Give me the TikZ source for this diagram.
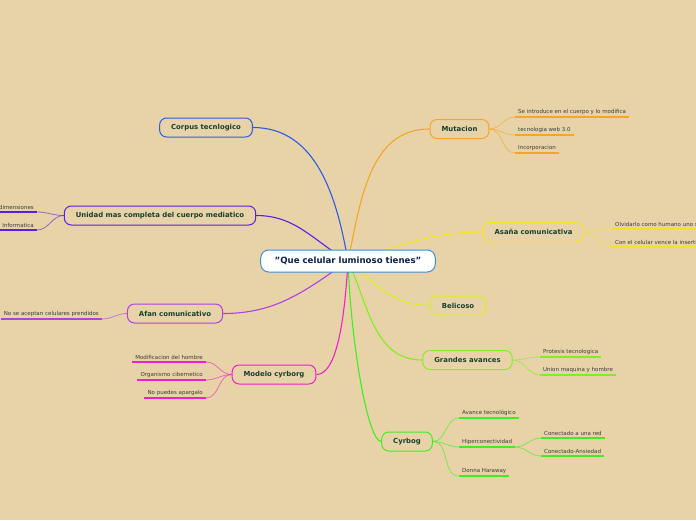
\documentclass[tikz,border=0pt]{standalone}
\usepackage{fontspec}
\setmainfont{DejaVu Sans}
\definecolor{bg}{HTML}{E8D3A8}
\definecolor{cblue}{HTML}{3A8FD0}
\definecolor{cnavy}{HTML}{0A2050}
\definecolor{ctext}{HTML}{173F2F}
\definecolor{csub}{HTML}{3A3A3A}
\definecolor{kcorpus}{HTML}{2A5CE8}
\definecolor{kunidad}{HTML}{5A1EE6}
\definecolor{kafan}{HTML}{B040E0}
\definecolor{kmodelo}{HTML}{F020C8}
\definecolor{kmut}{HTML}{F5A623}
\definecolor{kasana}{HTML}{F5E41A}
\definecolor{kbeli}{HTML}{D8F020}
\definecolor{kgrand}{HTML}{7EF020}
\definecolor{kcyr}{HTML}{3CF020}
\tikzset{
  mainnode/.style={draw=#1, line width=1pt, rounded corners=7pt, fill=bg, text=ctext,
    font=\fontsize{6.9}{7.5}\selectfont\bfseries, inner xsep=11.5pt, minimum height=19pt, inner ysep=0pt},
  centernode/.style={draw=cblue, line width=1pt, rounded corners=8pt, fill=white, text=cnavy,
    font=\fontsize{8.6}{9}\selectfont\bfseries, inner xsep=14pt, minimum height=22pt, inner ysep=0pt},
  subnode/.style={text=csub, font=\fontsize{5.5}{6.5}\selectfont, inner xsep=3pt, inner ysep=2.2pt},
  uline/.style={line width=1.4pt, draw=#1},
  link/.style={line width=1.1pt, draw=#1},
  sublink/.style={line width=0.8pt, draw=#1, draw opacity=0.6},
}
\begin{document}
\begin{tikzpicture}[x=1pt,y=-1pt]
\useasboundingbox (0,0) rectangle (696,520);
\fill[bg] (0,0) rectangle (696,520);
\clip (0,0) rectangle (696,520);
\coordinate (hub) at (348,261);
% main nodes
\node[mainnode=kcorpus] (corpus) at (206,127.5) {Corpus tecnlogico};
\node[mainnode=kunidad] (unidad) at (160,215.5) {Unidad mas completa del cuerpo mediatico};
\node[mainnode=kafan] (afan) at (175,313.5) {Afan comunicativo};
\node[mainnode=kmodelo] (modelo) at (274,374.5) {Modelo cyrborg};
\node[mainnode=kmut] (mut) at (459.5,129) {Mutacion};
\node[mainnode=kasana] (asana) at (533.5,232) {Asaña comunicativa};
\node[mainnode=kbeli] (beli) at (458,305.5) {Belicoso};
\node[mainnode=kgrand] (grand) at (467.5,360) {Grandes avances};
\node[mainnode=kcyr] (cyr) at (407,441.5) {Cyrbog};
% main links
\draw[link=kcorpus] (hub) to[out=100,in=0] (corpus.east);
\draw[link=kunidad] (hub) to[out=150,in=0] (unidad.east);
\draw[link=kafan] (hub) to[out=215,in=0] (afan.east);
\draw[link=kmodelo] (hub) .. controls (344,330) and (335,374.5) .. (modelo.east);
\draw[link=kmut] (hub) to[out=78,in=180] (mut.west);
\draw[link=kasana] (hub) to[out=15,in=180] (asana.west);
\draw[link=kbeli] (hub) to[out=-40,in=180] (beli.west);
\draw[link=kgrand] (hub) to[out=-65,in=180] (grand.west);
\draw[link=kcyr] (hub) .. controls (351,345) and (368,441.5) .. (cyr.west);
% center
\node[centernode] (center) at (348,261) {\symbol{34}Que celular luminoso tienes\symbol{34}};
% Mutacion subs
\node[subnode, anchor=south west] (m1) at (515,117) {Se introduce en el cuerpo y lo modifica};
\node[subnode, anchor=south west] (m2) at (515,135) {tecnologia web 3.0};
\node[subnode, anchor=south west] (m3) at (515,153) {Incorporacion};
\foreach \n in {m1,m2,m3}{
  \draw[uline=kmut] (\n.south west) -- (\n.south east);
  \draw[sublink=kmut] (mut.east) to[out=0,in=180] (\n.south west);
}
% Asana subs
\node[subnode, anchor=south west] (a1) at (612,229) {Olvidarlo como humano uno se};
\node[subnode, anchor=south west] (a2) at (612,247) {Con el celular vence la insertid};
\foreach \n in {a1,a2}{
  \draw[uline=kasana] (\n.south west) -- (\n.south east);
  \draw[sublink=kasana] (asana.east) to[out=0,in=180] (\n.south west);
}
% Grandes subs
\node[subnode, anchor=south west] (g1) at (540,357) {Protesis tecnologica};
\node[subnode, anchor=south west] (g2) at (540,375) {Union maquina y hombre};
\foreach \n in {g1,g2}{
  \draw[uline=kgrand] (\n.south west) -- (\n.south east);
  \draw[sublink=kgrand] (grand.east) to[out=0,in=180] (\n.south west);
}
% Cyrbog subs
\node[subnode, anchor=south west] (c1) at (459,418) {Avance tecnológico};
\node[subnode, anchor=south west] (c2) at (459,447) {Hiperconectividad};
\node[subnode, anchor=south west] (c3) at (459,476) {Donna Haraway};
\foreach \n in {c1,c2,c3}{
  \draw[uline=kcyr] (\n.south west) -- (\n.south east);
  \draw[sublink=kcyr] (cyr.east) to[out=0,in=180] (\n.south west);
}
\node[subnode, anchor=south west] (h1) at (541,438) {Conectado a una red};
\node[subnode, anchor=south west] (h2) at (541,456) {Conectado-Ansiedad};
\foreach \n in {h1,h2}{
  \draw[uline=kcyr] (\n.south west) -- (\n.south east);
  \draw[sublink=kcyr] (c2.south east) to[out=0,in=180] (\n.south west);
}
% Unidad subs
\node[subnode, anchor=south east] (u1) at (37,212) {dimensiones};
\node[subnode, anchor=south east] (u2) at (37,230) {Informatica};
\foreach \n in {u1,u2}{
  \draw[uline=kunidad] (\n.south west) -- (\n.south east);
  \draw[sublink=kunidad] (unidad.west) to[out=180,in=0] (\n.south east);
}
% Afan sub
\node[subnode, anchor=south east] (f1) at (102,319) {No se aceptan celulares prendidos};
\draw[uline=kafan] (f1.south west) -- (f1.south east);
\draw[sublink=kafan] (afan.west) to[out=180,in=0] (f1.south east);
% Modelo subs
\node[subnode, anchor=south east] (o1) at (206,362) {Modificacion del hombre};
\node[subnode, anchor=south east] (o2) at (206,380) {Organismo cibernetico};
\node[subnode, anchor=south east] (o3) at (206,398) {No puedes apargalo};
\foreach \n in {o1,o2,o3}{
  \draw[uline=kmodelo] (\n.south west) -- (\n.south east);
  \draw[sublink=kmodelo] (modelo.west) to[out=180,in=0] (\n.south east);
}
\end{tikzpicture}
\end{document}
